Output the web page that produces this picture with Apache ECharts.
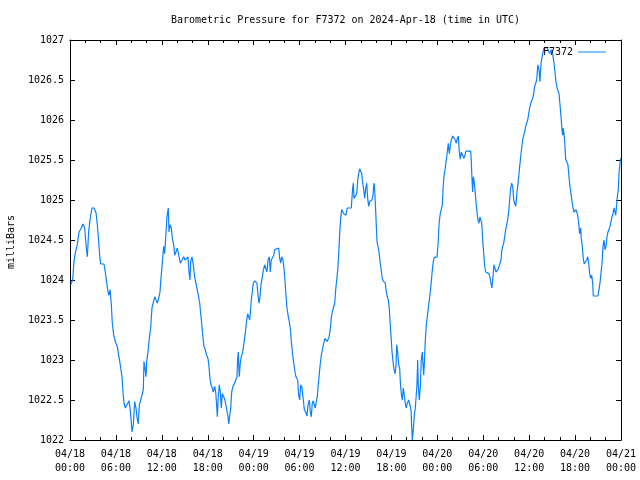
<!DOCTYPE html>
<html><head><meta charset="utf-8">
<script src="https://cdn.jsdelivr.net/npm/echarts@6/dist/echarts.min.js"></script>
<style>html,body{margin:0;padding:0;background:#fff}#c{width:640px;height:480px}</style>
</head><body><div id="c"></div>
<script>
// hours since 2024-04-18 00:00 UTC
const hours = [
0.09,0.35,0.52,0.69,0.95,1.18,1.48,1.70,1.92,2.13,
2.26,2.44,2.61,2.87,3.14,3.40,3.57,3.75,3.88,4.01,
4.44,4.61,4.80,4.97,5.10,5.23,5.40,5.53,5.71,5.92,
6.18,6.36,6.57,6.79,6.93,7.06,7.23,7.49,7.71,7.84,
7.97,8.10,8.27,8.45,8.62,8.75,8.92,9.06,9.24,9.45,
9.58,9.67,9.80,9.93,10.02,10.19,10.36,10.54,10.71,10.94,
11.07,11.28,11.41,11.59,11.76,11.85,11.98,12.11,12.24,12.37,
12.50,12.67,12.84,12.94,13.07,13.24,13.37,13.55,13.68,13.85,
14.02,14.28,14.41,14.67,14.86,15.03,15.16,15.29,15.42,15.55,
15.68,15.77,15.94,16.11,16.29,16.50,16.73,16.95,17.08,17.21,
17.34,17.51,17.68,17.86,18.03,18.16,18.29,18.42,18.59,18.72,
18.91,19.04,19.17,19.25,19.38,19.51,19.64,19.77,19.90,20.08,
20.25,20.48,20.65,20.74,20.95,21.00,21.13,21.30,21.47,21.69,
21.82,21.91,21.99,22.12,22.25,22.38,22.57,22.74,22.87,23.04,
23.22,23.35,23.48,23.56,23.69,23.82,23.95,24.13,24.30,24.43,
24.57,24.70,24.83,24.96,25.13,25.26,25.44,25.61,25.74,25.87,
26.04,26.17,26.30,26.49,26.62,26.75,27.01,27.27,27.40,27.53,
27.66,27.83,27.96,28.09,28.22,28.35,28.53,28.66,28.79,28.92,
29.10,29.27,29.40,29.53,29.75,29.88,30.01,30.15,30.32,30.49,
30.62,30.80,30.97,31.10,31.27,31.40,31.53,31.66,31.79,31.92,
32.05,32.18,32.31,32.44,32.58,32.71,32.84,33.02,33.15,33.32,
33.45,33.58,33.71,33.84,34.01,34.14,34.27,34.46,34.59,34.72,
34.85,34.98,35.11,35.24,35.37,35.50,35.63,35.76,35.89,36.06,
36.23,36.76,36.81,36.94,37.02,37.11,37.33,37.46,37.59,37.72,
37.85,37.99,38.12,38.25,38.38,38.51,38.64,38.77,38.90,39.03,
39.16,39.29,39.46,39.59,39.68,39.76,39.85,39.95,40.02,40.12,
40.25,40.38,40.51,40.64,40.77,40.90,41.07,41.20,41.33,41.46,
41.59,41.72,41.81,41.94,42.08,42.21,42.34,42.47,42.60,42.69,
42.82,42.95,43.08,43.16,43.29,43.42,43.55,43.68,43.81,43.94,
44.07,44.26,44.43,44.56,44.65,44.73,44.86,44.99,45.12,45.25,
45.34,45.43,45.51,45.64,45.77,45.90,46.03,46.13,46.22,46.30,
46.43,46.56,46.69,46.82,46.95,47.08,47.21,47.34,47.47,47.60,
47.79,47.96,48.09,48.22,48.35,48.52,48.65,48.78,48.91,49.04,
49.17,49.30,49.43,49.56,49.69,49.82,50.01,50.18,50.35,50.48,
50.61,50.74,50.87,51.00,51.13,51.31,51.48,51.61,51.74,52.36,
52.44,52.53,52.62,52.70,52.79,52.92,53.05,53.18,53.31,53.44,
53.57,53.67,53.80,53.93,54.06,54.19,54.32,54.53,54.75,54.88,
55.01,55.14,55.27,55.40,55.53,55.66,55.79,55.93,56.06,56.19,
56.32,56.41,56.54,56.67,56.80,56.93,57.06,57.19,57.32,57.45,
57.59,57.72,57.85,57.98,58.11,58.24,58.37,58.50,58.63,58.76,
58.89,59.02,59.15,59.28,59.41,59.55,59.68,59.81,59.94,60.07,
60.20,60.33,60.46,60.59,60.72,60.85,60.98,61.06,61.15,61.28,
61.41,61.50,61.58,61.77,61.94,62.11,62.29,62.46,62.68,62.89,
63.07,63.24,63.37,63.50,63.64,63.77,63.90,64.03,64.16,64.29,
64.38,64.46,64.59,64.68,64.77,64.94,65.07,65.20,65.33,65.46,
65.60,65.73,65.86,65.99,66.12,66.25,66.34,66.47,66.60,66.73,
66.81,66.94,67.07,67.20,67.38,67.51,67.65,67.78,67.91,68.04,
68.17,68.30,68.38,68.99,69.12,69.25,69.38,69.52,69.65,69.78,
69.91,70.04,70.17,70.30,70.43,70.56,70.69,70.82,70.95,71.08,
71.21,71.31,71.39,71.52,71.65,71.74,71.87,71.96
];
// barometric pressure, milliBars
const pressure = [
1023.94,1024.00,1024.23,1024.34,1024.44,1024.60,1024.65,1024.70,1024.65,1024.40,
1024.29,1024.60,1024.75,1024.90,1024.90,1024.84,1024.69,1024.48,1024.31,1024.20,
1024.20,1024.10,1023.96,1023.85,1023.81,1023.88,1023.69,1023.46,1023.31,1023.23,
1023.17,1023.06,1022.94,1022.79,1022.59,1022.46,1022.40,1022.40,1022.49,1022.40,
1022.27,1022.10,1022.19,1022.48,1022.40,1022.29,1022.20,1022.44,1022.50,1022.50,
1022.63,1022.98,1022.90,1022.79,1022.98,1023.10,1023.27,1023.40,1023.65,1023.74,
1023.79,1023.79,1023.71,1023.77,1023.85,1023.98,1024.12,1024.27,1024.42,1024.33,
1024.52,1024.79,1024.90,1024.60,1024.69,1024.65,1024.52,1024.44,1024.31,1024.35,
1024.40,1024.40,1024.21,1024.21,1024.29,1024.25,1024.27,1024.23,1024.29,1024.10,
1024.00,1024.23,1024.29,1024.19,1024.04,1023.94,1023.83,1023.71,1023.58,1023.46,
1023.31,1023.17,1023.13,1023.06,1023.02,1022.92,1022.77,1022.69,1022.65,1022.60,
1022.67,1022.60,1022.42,1022.29,1022.56,1022.69,1022.60,1022.40,1022.58,1022.54,
1022.50,1022.48,1022.29,1022.20,1022.20,1022.40,1022.60,1022.67,1022.70,1022.70,
1022.79,1023.02,1023.10,1022.79,1022.96,1023.04,1023.10,1023.10,1023.31,1023.46,
1023.58,1023.60,1023.50,1023.58,1023.75,1023.85,1023.96,1023.99,1024.00,1023.96,
1023.81,1023.71,1023.79,1023.94,1024.04,1024.12,1024.19,1024.17,1024.10,1024.25,
1024.29,1024.10,1024.25,1024.25,1024.31,1024.38,1024.40,1024.40,1024.27,1024.21,
1024.29,1024.25,1024.15,1024.00,1023.81,1023.65,1023.54,1023.48,1023.40,1023.23,
1023.06,1022.94,1022.85,1022.79,1022.75,1022.56,1022.50,1022.69,1022.65,1022.50,
1022.38,1022.35,1022.30,1022.44,1022.50,1022.35,1022.29,1022.46,1022.49,1022.44,
1022.40,1022.48,1022.54,1022.69,1022.83,1022.96,1023.06,1023.15,1023.21,1023.27,
1023.29,1023.23,1023.21,1023.28,1023.38,1023.52,1023.60,1023.60,1023.71,1023.88,
1024.00,1024.12,1024.32,1024.58,1024.77,1024.88,1024.90,1024.83,1024.81,1024.81,
1024.90,1024.90,1024.98,1025.15,1025.21,1025.02,1025.02,1025.08,1025.24,1025.33,
1025.39,1025.40,1025.33,1025.21,1025.13,1025.02,1025.15,1025.21,1025.02,1024.92,
1024.98,1025.00,1025.00,1025.06,1025.17,1025.21,1025.06,1024.85,1024.69,1024.48,
1024.42,1024.35,1024.23,1024.15,1024.04,1023.99,1023.99,1023.96,1023.85,1023.79,
1023.75,1023.65,1023.50,1023.31,1023.10,1022.98,1022.88,1022.83,1022.92,1023.19,
1023.10,1022.94,1022.90,1022.73,1022.58,1022.50,1022.65,1022.56,1022.46,1022.40,
1022.46,1022.50,1022.50,1022.38,1022.15,1022.00,1022.13,1022.31,1022.40,1022.40,
1022.69,1023.00,1022.69,1022.50,1022.65,1023.00,1023.10,1022.94,1022.81,1022.96,
1023.25,1023.44,1023.54,1023.65,1023.75,1023.85,1023.98,1024.12,1024.23,1024.28,
1024.29,1024.29,1024.44,1024.69,1024.81,1024.81,1024.94,1025.19,1025.33,1025.40,
1025.50,1025.60,1025.71,1025.58,1025.67,1025.75,1025.80,1025.80,1025.75,1025.71,
1025.77,1025.80,1025.60,1025.51,1025.60,1025.60,1025.52,1025.56,1025.61,1025.61,
1025.48,1025.25,1025.10,1025.29,1025.25,1025.13,1024.98,1024.85,1024.75,1024.71,
1024.79,1024.81,1024.71,1024.50,1024.33,1024.17,1024.10,1024.10,1024.08,1024.03,
1023.96,1023.90,1024.04,1024.19,1024.17,1024.10,1024.10,1024.13,1024.17,1024.21,
1024.25,1024.35,1024.42,1024.46,1024.54,1024.63,1024.69,1024.75,1024.85,1025.00,
1025.15,1025.21,1025.17,1025.00,1024.96,1024.92,1025.06,1025.17,1025.29,1025.42,
1025.54,1025.65,1025.75,1025.81,1025.85,1025.92,1025.94,1026.00,1026.08,1026.15,
1026.21,1026.23,1026.27,1026.33,1026.42,1026.42,1026.50,1026.60,1026.69,1026.63,
1026.48,1026.63,1026.73,1026.83,1026.90,1026.92,1026.91,1026.88,1026.83,1026.88,
1026.83,1026.71,1026.60,1026.48,1026.40,1026.40,1026.33,1026.19,1026.04,1025.88,
1025.81,1025.90,1025.79,1025.67,1025.51,1025.50,1025.44,1025.29,1025.17,1025.08,
1024.98,1024.90,1024.85,1024.83,1024.88,1024.90,1024.81,1024.71,1024.58,1024.65,
1024.52,1024.42,1024.27,1024.20,1024.20,1024.25,1024.29,1024.21,1024.08,1024.02,
1024.06,1023.96,1023.80,1023.80,1023.88,1023.96,1024.08,1024.21,1024.42,1024.50,
1024.38,1024.42,1024.54,1024.60,1024.63,1024.67,1024.73,1024.79,1024.83,1024.90,
1024.88,1024.81,1024.90,1025.04,1025.13,1025.33,1025.46,1025.52
];
const xTickLabels = [
'04/18\n00:00','04/18\n06:00','04/18\n12:00','04/18\n18:00',
'04/19\n00:00','04/19\n06:00','04/19\n12:00','04/19\n18:00',
'04/20\n00:00','04/20\n06:00','04/20\n12:00','04/20\n18:00',
'04/21\n00:00'
];
const yTickLabels = ['1022','1022.5','1023','1023.5','1024','1024.5','1025','1025.5','1026','1026.5','1027'];
const seriesName = 'F7372';
const titleText = 'Barometric Pressure for F7372 on 2024-Apr-18 (time in UTC)';
const yAxisName = 'milliBars';

const FONT = 'DejaVu Sans Mono';
const chart = echarts.init(document.getElementById('c'), null, {renderer: 'canvas'});
const data = hours.map((h, i) => [h, pressure[i]]);
const axisLine = {show: true, onZero: false, lineStyle: {color: '#000', width: 1}};
const xCommon = {
  type: 'value', min: 0, max: 72, interval: 6,
  axisLine: axisLine,
  axisTick: {show: true, inside: true, length: 5, lineStyle: {color: '#000'}},
  minorTick: {show: true, splitNumber: 3, length: 3, lineStyle: {color: '#000'}},
  splitLine: {show: false}, minorSplitLine: {show: false}
};
const yCommon = {
  type: 'value', min: 1022, max: 1027, interval: 0.5,
  axisLine: axisLine,
  axisTick: {show: true, inside: true, length: 5, lineStyle: {color: '#000'}},
  splitLine: {show: false}
};
chart.setOption({
  animation: false,
  backgroundColor: '#fff',
  grid: {left: 70, right: 19, top: 40, bottom: 40},
  graphic: [
    {type: 'text', x: 345.5, y: 20, style: {text: titleText, font: '10px "' + FONT + '"', fill: '#000', textAlign: 'center', textVerticalAlign: 'middle'}},
    {type: 'text', x: 11, y: 242, rotation: Math.PI / 2, style: {text: yAxisName, font: '10px "' + FONT + '"', fill: '#000', textAlign: 'center', textVerticalAlign: 'middle'}}
  ],
  legend: {
    data: [seriesName], right: 29, top: 42, align: 'right', icon: 'rect',
    itemWidth: 28, itemHeight: 1, itemGap: 5,
    textStyle: {fontFamily: FONT, fontSize: 10, color: '#000'}
  },
  xAxis: [
    Object.assign({}, xCommon, {position: 'bottom',
      axisLabel: {show: true, margin: 7, fontFamily: FONT, fontSize: 10, color: '#000', lineHeight: 14,
        formatter: v => xTickLabels[Math.round(v / 6)] || ''}}),
    Object.assign({}, xCommon, {position: 'top', axisLabel: {show: false}})
  ],
  yAxis: [
    Object.assign({}, yCommon, {position: 'left',
      axisLabel: {show: true, margin: 6, fontFamily: FONT, fontSize: 10, color: '#000',
        formatter: v => yTickLabels[Math.round((v - 1022) / 0.5)] || ''}}),
    Object.assign({}, yCommon, {position: 'right', axisLabel: {show: false}})
  ],
  series: [{
    name: seriesName, type: 'line', data: data, showSymbol: false, symbol: 'none',
    xAxisIndex: 0, yAxisIndex: 0,
    lineStyle: {color: '#0a80ff', width: 1.2}, itemStyle: {color: '#0a80ff'}
  }]
});
</script></body></html>
